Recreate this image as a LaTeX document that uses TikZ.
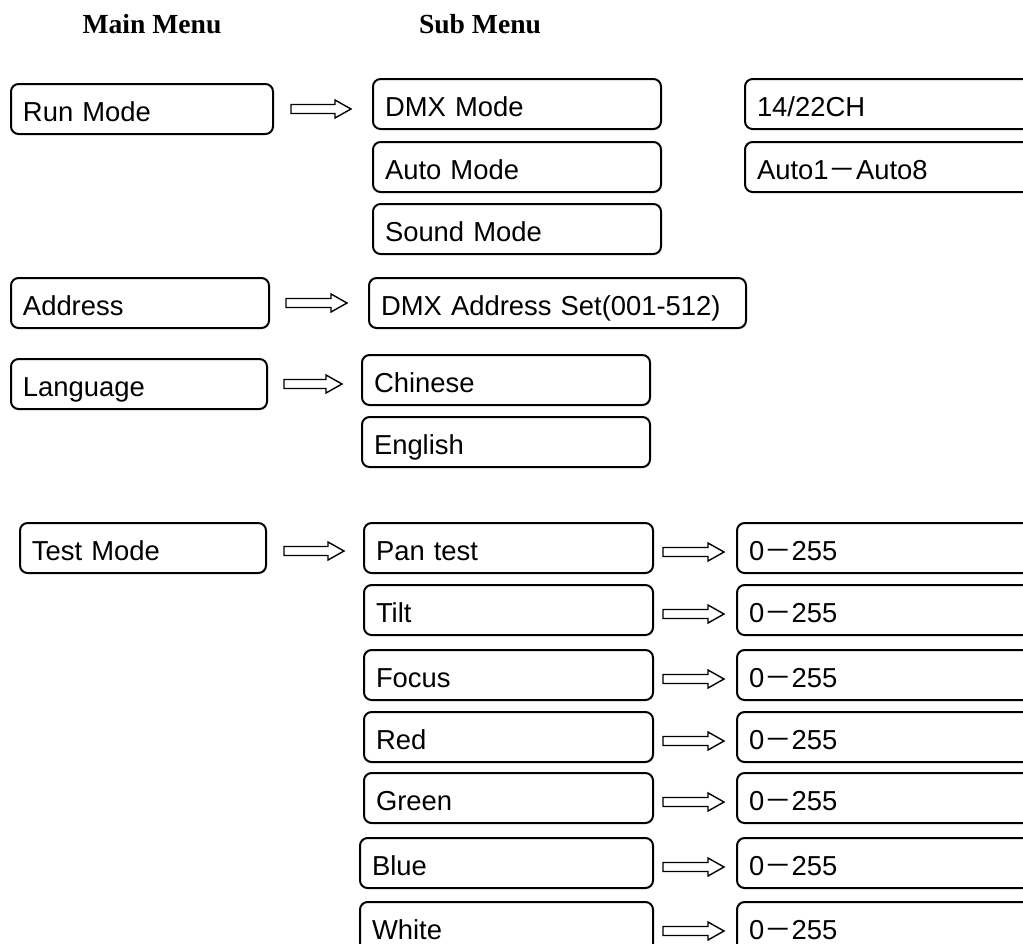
\documentclass[tikz,border=0pt]{standalone}
\usepackage{fontspec}
\setmainfont{Liberation Sans}
\newfontfamily\hdfont{Liberation Serif}
\newfontfamily\cjk{Noto Sans CJK SC}
\usetikzlibrary{calc}

\tikzset{
  box/.style={draw,line width=1pt,rounded corners=3.8pt,anchor=north west,align=left,
    inner xsep=6pt,inner ysep=0pt,minimum height=25pt,text height=15pt,text depth=3pt,
    font=\fontsize{13.7}{15}\selectfont,text width=#1},
  head/.style={anchor=base,font=\hdfont\bfseries\fontsize{13.8}{16}\selectfont},
  arrowline/.style={draw,line width=0.7pt,line join=miter},
  blockarrow/.style 2 args={to path={let \p1=(\tikztostart), \p2=(\tikztotarget) in
    (\x1+#1,\y1+2.25pt) -- (\x2-#2-8pt,\y1+2.25pt) -- (\x2-#2-8pt,\y1+4.5pt) -- (\x2-#2,\y1)
    -- (\x2-#2-8pt,\y1-4.5pt) -- (\x2-#2-8pt,\y1-2.25pt) -- (\x1+#1,\y1-2.25pt) -- cycle}}
}

\begin{document}
\begin{tikzpicture}[x=0.5pt,y=-0.5pt]
\useasboundingbox (0,0) rectangle (1023,943);

\node[head] (mainhd) at (152,33) {Main Menu};
\node[head] (subhd) at (480,33) {Sub Menu};

\node[box=119pt] (run) at (10,83) {Run Mode};
\node[box=117pt] (addr) at (10,277) {Address};
\node[box=116pt] (lang) at (10,358) {Language};
\node[box=111pt] (test) at (19,522) {Test Mode};

\node[box=132pt] (dmx) at (372,78) {DMX Mode};
\node[box=132pt] (auto) at (372,141) {Auto Mode};
\node[box=132pt] (sound) at (372,203) {Sound Mode};
\node[box=176.5pt] (dmxaddr) at (368,277) {DMX Address Set(001-512)};
\node[box=132pt] (chn) at (361,354) {Chinese};
\node[box=132pt] (eng) at (361,416) {English};

\node[box=158pt] (chan) at (744,78) {14/22CH};
\node[box=158pt] (autos) at (744,141) {Auto1{\cjk －}Auto8};

\draw[arrowline,blockarrow={8.5pt}{10.5pt}] (run.east) to (dmx.west);
\draw[arrowline,blockarrow={8pt}{10.5pt}] (addr.east) to (dmxaddr.west);
\draw[arrowline,blockarrow={8pt}{9.5pt}] (lang.east) to (chn.west);

\foreach \nm/\lbl/\yy/\xx/\ww in {pan/Pan test/522/363/132.5pt, tilt/Tilt/584/363/132.5pt,
    focus/Focus/649/363/132.5pt, red/Red/711/363/132.5pt, green/Green/772/363/132.5pt,
    blue/Blue/837/359/134.5pt, white/White/901/359/134.5pt} {
    \node[box=\ww] (\nm) at (\xx,\yy) {\lbl};
    \node[box=163pt] (v\nm) at (736,\yy) {0{\cjk －}255};
    \draw[arrowline,blockarrow={4.5pt}{6pt}] ([yshift=-2pt]\nm.east) to (v\nm.west);
}
\draw[arrowline,blockarrow={8.5pt}{9.5pt}] ([yshift=-1.5pt]test.east) to (pan.west);
\end{tikzpicture}
\end{document}
